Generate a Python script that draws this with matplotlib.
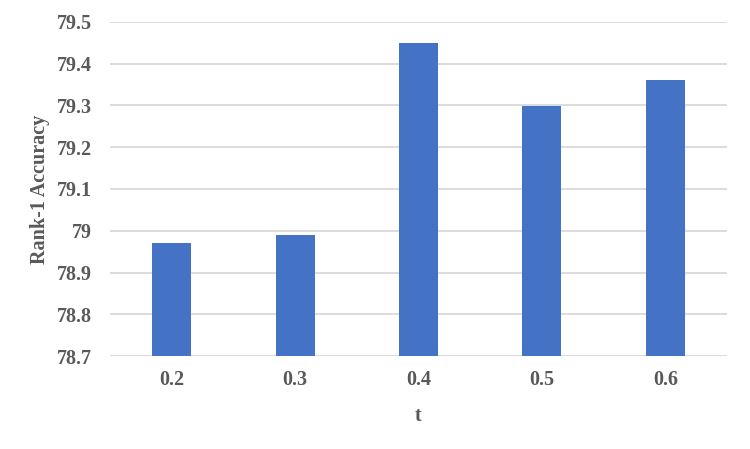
import matplotlib.pyplot as plt
from matplotlib.ticker import FuncFormatter, MultipleLocator

# values
t_values = ["0.2", "0.3", "0.4", "0.5", "0.6"]
rank1_acc = [78.97, 78.99, 79.45, 79.30, 79.36]

plt.rcParams['font.family'] = ['Liberation Serif', 'DejaVu Serif']
text_color = '#595959'
fs = 14.5

fig = plt.figure(figsize=(7.5, 4.49), dpi=100)
ax = fig.add_axes([110 / 750, 1 - 356 / 449, 617 / 750, 334 / 449])

x = range(len(t_values))
ax.bar(x, rank1_acc, width=0.316, color='#4472C4', zorder=3)

ax.set_xlim(-0.5, len(t_values) - 0.5)
ax.set_ylim(78.7, 79.5)
ax.yaxis.set_major_locator(MultipleLocator(0.1))
ax.yaxis.set_major_formatter(FuncFormatter(lambda v, p: '%g' % round(v, 2)))
ax.grid(axis='y', color='#d9d9d9', linewidth=1.3, zorder=0)
ax.set_axisbelow(True)

for sp in ax.spines.values():
    sp.set_visible(False)

ax.set_xticks(list(x))
ax.set_xticklabels(t_values)
ax.tick_params(axis='both', length=0, labelsize=fs, labelcolor=text_color)
ax.tick_params(axis='y', pad=13)
ax.tick_params(axis='x', pad=10)
for lbl in ax.get_xticklabels() + ax.get_yticklabels():
    lbl.set_fontweight('bold')

ax.set_xlabel('t', fontsize=fs, fontweight='bold', color=text_color)
ax.xaxis.set_label_coords(0.5, -50 / 334)
ax.set_ylabel('Rank-1 Accuracy', fontsize=fs, fontweight='bold', color=text_color)
ax.yaxis.set_label_coords(-60 / 617, 0.5)

plt.savefig('out.png', dpi=100)
